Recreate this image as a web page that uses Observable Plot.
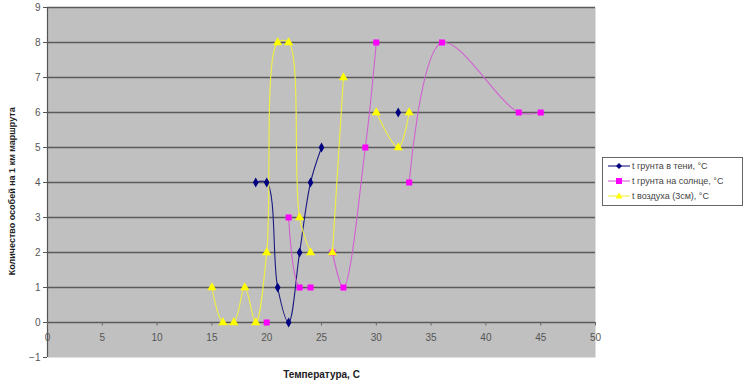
<!DOCTYPE html>
<html>
<head>
<meta charset="utf-8">
<script src="https://cdn.jsdelivr.net/npm/d3@7"></script>
<script src="https://cdn.jsdelivr.net/npm/@observablehq/plot@0.6"></script>
<style>
  html, body { margin: 0; padding: 0; background: #fff; }
  #wrap { position: relative; width: 750px; height: 384px; font-family: "Liberation Sans", Arial, sans-serif; }
  #legend { position: absolute; left: 602px; top: 157px; width: 141px; height: 49px; border: 1px solid #666; background: #fff; box-sizing: border-box; font-size: 9px; color: #444; }
  #legend .row { display: flex; align-items: center; height: 15px; padding-left: 4px; }
  #legend svg { margin-right: 1px; }
</style>
</head>
<body>
<div id="wrap"></div>
<script>
const temps   = [15,16,17,18,19,20,21,22,23,24,25,26,27,29,30,32,33,36,43,45];
const shade   = [null,null,null,null,4,4,1,0,2,4,5,null,null,null,null,6,null,null,null,null];
const sun     = [null,null,null,null,null,0,null,3,1,1,null,2,1,5,8,null,4,8,6,6];
const air     = [1,0,0,1,0,2,8,8,3,2,null,2,7,null,6,5,6,null,null,null];
const seriesNames = ["t грунта в тени, °C", "t грунта на солнце, °C", "t воздуха (3см), °C"];
const seriesColors = ["#000080", "#ff00ff", "#ffff00"];
const lineColors = ["#1a1a80", "#d060d0", "#f0f040"];
const seriesSymbols = ["diamond", "square", "triangle"];
const yTicks = [-1,0,1,2,3,4,5,6,7,8,9];
const xTicks = [0,5,10,15,20,25,30,35,40,45,50];
const xTitle = "Температура, С";
const yTitle = "Количество особей на 1 км маршрута";

const seriesValues = [shade, sun, air];
const rows = (i) => temps.map((t, k) => ({x: t, y: seriesValues[i][k] == null ? NaN : seriesValues[i][k]}));

const marks = [
  Plot.frame({fill: "#c0c0c0", stroke: null}),
  Plot.ruleY(yTicks.filter(d => d > -1), {y: d => d, stroke: "#5a5a5a", strokeWidth: 1.6}),
  Plot.ruleX([0], {y1: -1, y2: 9, stroke: "#555", strokeWidth: 1.2}),
  Plot.ruleX(xTicks, {x: d => d, y1: 0, y2: -0.1, stroke: "#666"}),
  Plot.text(xTicks, {x: d => d, y: -0.43, text: d => String(d), fill: "#555", fontSize: 10}),
  Plot.axisY(yTicks, {anchor: "left", tickSize: 4, tickPadding: 3, fontSize: 10, color: "#555", label: null}),
];
[0,1,2].forEach(i => {
  marks.push(Plot.line(rows(i), {x: "x", y: "y", stroke: lineColors[i], strokeWidth: 1.1, curve: "catmull-rom"}));
});
[0,1,2].forEach(i => {
  const r = [3, 3.4, 3.4][i];
  marks.push(Plot.dot(rows(i).filter(d => !isNaN(d.y)), {x: "x", y: "y", symbol: seriesSymbols[i], fill: seriesColors[i], stroke: "none", r}));
});
marks.push(Plot.text([yTitle], {x: 0, y: 3.75, dx: -35, rotate: -90, text: d => d, fontSize: 9, fontWeight: "bold", fill: "#222"}));
marks.push(Plot.text([xTitle], {frameAnchor: "bottom", dy: 20, text: d => d, fontSize: 10, fontWeight: "bold", fill: "#222"}));

const chart = Plot.plot({
  width: 750,
  height: 384,
  marginLeft: 47,
  marginRight: 155,
  marginTop: 7,
  marginBottom: 27,
  style: {fontFamily: "Liberation Sans, Arial, sans-serif", background: "#fff", overflow: "visible"},
  x: {domain: [0, 50], axis: null},
  y: {domain: [-1, 9], axis: null},
  marks
});
const wrap = document.getElementById("wrap");
wrap.appendChild(chart);

const legend = document.createElement("div");
legend.id = "legend";
seriesNames.forEach((name, i) => {
  const row = document.createElement("div");
  row.className = "row";
  const sym = seriesSymbols[i] === "diamond"
    ? `<path d="M12,4 L15,7 L12,10 L9,7 Z" fill="${seriesColors[i]}"/>`
    : seriesSymbols[i] === "square"
    ? `<rect x="9" y="4" width="6" height="6" fill="${seriesColors[i]}"/>`
    : `<path d="M12,3.5 L15.5,9.5 L8.5,9.5 Z" fill="${seriesColors[i]}"/>`;
  row.innerHTML = `<svg width="24" height="14"><line x1="1" x2="23" y1="7" y2="7" stroke="${lineColors[i]}" stroke-width="1.1"/>${sym}</svg><span>${name}</span>`;
  legend.appendChild(row);
});
wrap.appendChild(legend);
</script>
</body>
</html>
